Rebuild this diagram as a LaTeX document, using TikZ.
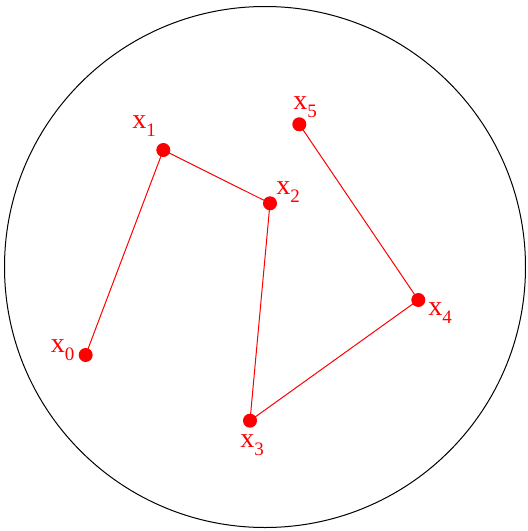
\documentclass[tikz,border=0pt]{standalone}
\usepackage{fontspec}
\usepackage{xcolor}
\setmainfont{Liberation Serif}
\usetikzlibrary{positioning}
\definecolor{PathRed}{RGB}{255, 0, 0}
\newcommand{\xlab}[1]{x\raisebox{-4.2pt}{\fontsize{9.5}{10}\selectfont #1}}

\begin{document}
\begin{tikzpicture}[
    x=0.5pt, y=-0.5pt,
    dot/.style={circle, fill=PathRed, inner sep=0pt, minimum size=7pt},
    lab/.style={text=PathRed, inner sep=0pt, font=\fontsize{14}{16}\selectfont},
    walk/.style={draw=PathRed, line width=0.5pt}
]
\useasboundingbox (0,0) rectangle (527,531);

% Boundary
\draw[line width=0.5pt] (265,267) circle[radius=130.25pt];

% Points
\node[dot] (p0) at (85.7,355) {};
\node[dot] (p1) at (163.3,150) {};
\node[dot] (p2) at (270,203.3) {};
\node[dot] (p3) at (250,420.7) {};
\node[dot] (p4) at (418.3,300) {};
\node[dot] (p5) at (299.3,124.3) {};

% Labels
\node[lab] (l0) at (62.5,350) {\xlab{0}};
\node[lab] (l1) at (144,126) {\xlab{1}};
\node[lab] (l2) at (288,192) {\xlab{2}};
\node[lab] (l3) at (252,445) {\xlab{3}};
\node[lab] (l4) at (440,313) {\xlab{4}};
\node[lab] (l5) at (305,107) {\xlab{5}};

% Walk
\draw[walk] (p0.center) -- (p1.center) -- (p2.center) -- (p3.center) -- (p4.center) -- (p5.center);

\end{tikzpicture}
\end{document}
